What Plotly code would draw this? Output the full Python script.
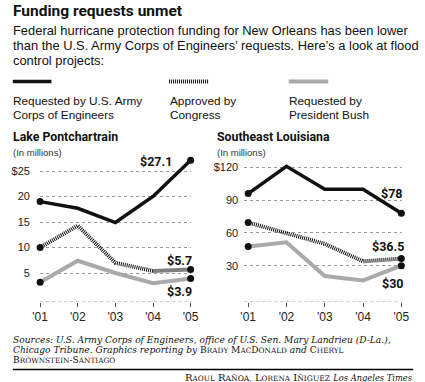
import plotly.graph_objects as go

W, H = 425, 382

years = ["'01", "'02", "'03", "'04", "'05"]
xi = [0, 1, 2, 3, 4]

# Lake Pontchartrain (in millions)
lp_army = [19.0, 17.7, 14.9, 20.0, 27.1]
lp_congress = [10.0, 14.3, 7.0, 5.4, 5.7]
lp_bush = [3.2, 7.4, 5.0, 3.0, 3.9]
lp_ticks = [5, 10, 15, 20, 25]
lp_ticktext = ["5", "10", "15", "20", "$25"]

# Southeast Louisiana (in millions)
se_army = [96, 121, 100, 100, 78]
se_congress = [69.5, 59.5, 50, 34, 36.5]
se_bush = [47.5, 51.5, 20.5, 16.5, 30]
se_ticks = [30, 60, 90, 120]
se_ticktext = ["30", "60", "90", "$120"]

SANS = "Liberation Sans, Arial, sans-serif"
BOLD = "Roboto, Liberation Sans, sans-serif"
SERIF = "DejaVu Serif, Liberation Serif, serif"

BLACK = "#111111"
GRAY = "#aaaaaa"
DARKGRAY = "#808080"


def px(x):
    return x / W


def py(y):
    return 1 - y / H


fig = go.Figure()


def add_panel(xa, ya, army, congress, bush, split_congress):
    fig.add_trace(go.Scatter(x=xi, y=bush, xaxis=xa, yaxis=ya, mode="lines",
                             line=dict(color=GRAY, width=4), cliponaxis=False,
                             hoverinfo="skip"))
    if split_congress:
        fig.add_trace(go.Scatter(x=xi[:4], y=congress[:4], xaxis=xa, yaxis=ya, mode="lines",
                                 line=dict(color=BLACK, width=4, dash="1px,1px"),
                                 cliponaxis=False, hoverinfo="skip"))
        fig.add_trace(go.Scatter(x=xi[3:], y=congress[3:], xaxis=xa, yaxis=ya, mode="lines",
                                 line=dict(color=DARKGRAY, width=4),
                                 cliponaxis=False, hoverinfo="skip"))
    else:
        fig.add_trace(go.Scatter(x=xi, y=congress, xaxis=xa, yaxis=ya, mode="lines",
                                 line=dict(color=BLACK, width=4, dash="1px,1px"),
                                 cliponaxis=False, hoverinfo="skip"))
    fig.add_trace(go.Scatter(x=xi, y=army, xaxis=xa, yaxis=ya, mode="lines",
                             line=dict(color=BLACK, width=3.5), cliponaxis=False,
                             hoverinfo="skip"))
    for s in (army, congress, bush):
        fig.add_trace(go.Scatter(x=[xi[0], xi[-1]], y=[s[0], s[-1]], xaxis=xa, yaxis=ya,
                                 mode="markers", marker=dict(color=BLACK, size=7),
                                 cliponaxis=False, hoverinfo="skip"))


add_panel("x", "y", lp_army, lp_congress, lp_bush, True)
add_panel("x2", "y2", se_army, se_congress, se_bush, False)

ybot, ytop = 301.5, 155.0
lp_range = [-0.588, 28.14]
se_range = [-2.74, 131.3]

xcommon = dict(tickvals=xi, ticktext=years, showgrid=False, zeroline=False, showline=False,
               ticks="outside", ticklen=4, tickcolor="#555", tickwidth=1,
               tickfont=dict(family=SANS, size=12, color="#222"), fixedrange=True)
ycommon = dict(showgrid=True, gridcolor="#999", griddash="dot", gridwidth=1, zeroline=False,
               showline=False, ticks="outside", tickcolor="rgba(0,0,0,0)",
               tickfont=dict(family=SANS, size=11, color="#222"), fixedrange=True)

fig.update_layout(
    width=W, height=H, margin=dict(l=0, r=0, t=0, b=0),
    paper_bgcolor="white", plot_bgcolor="white", showlegend=False,
    xaxis=dict(domain=[px(33.3), px(190.1)], range=[0, 4.02], anchor="y", **xcommon),
    yaxis=dict(domain=[py(ybot), py(ytop)], range=lp_range, anchor="x", ticklen=7,
               tickvals=lp_ticks, ticktext=lp_ticktext, **ycommon),
    xaxis2=dict(domain=[px(245), px(408.9)], range=[-0.1, 4.03], anchor="y2", **xcommon),
    yaxis2=dict(domain=[py(ybot), py(ytop)], range=se_range, anchor="x2", ticklen=3,
                tickvals=se_ticks, ticktext=se_ticktext, **ycommon),
)

shapes = []
shapes.append(dict(type="line", xref="x domain", yref="y", x0=0, x1=1, y0=lp_range[0], y1=lp_range[0],
                   line=dict(color="#999", width=1, dash="dot")))
shapes.append(dict(type="line", xref="x2 domain", yref="y2", x0=0, x1=1, y0=se_range[0], y1=se_range[0],
                   line=dict(color="#999", width=1, dash="dot")))
ly = py(81.5)
shapes.append(dict(type="line", xref="paper", yref="paper", x0=px(5), x1=px(45), y0=ly, y1=ly,
                   line=dict(color=BLACK, width=3.5)))
shapes.append(dict(type="line", xref="paper", yref="paper", x0=px(167), x1=px(208), y0=ly, y1=ly,
                   line=dict(color=BLACK, width=4, dash="1px,1px")))
shapes.append(dict(type="line", xref="paper", yref="paper", x0=px(291), x1=px(332), y0=ly, y1=ly,
                   line=dict(color=GRAY, width=4)))
# footer rule
shapes.append(dict(type="rect", xref="paper", yref="paper", x0=px(5), x1=px(420),
                   y0=py(370.2), y1=py(368.8), fillcolor="#000", line=dict(width=0), layer="above"))
fig.update_layout(shapes=shapes)

ann = []


def text(x, y, s, size, family=SANS, color="#111", xanchor="left", bold=False):
    if bold:
        s = "<b>" + s + "</b>"
    ann.append(dict(x=px(x), y=py(y), xref="paper", yref="paper", text=s, showarrow=False,
                    xanchor=xanchor, yanchor="middle", align=xanchor if xanchor != "center" else "center",
                    borderpad=0, font=dict(family=family, size=size, color=color)))


text(4, 10.5, "Funding requests unmet", 15.5, family=BOLD, bold=True)
text(4, 30.5, "Federal hurricane protection funding for New Orleans has been lower", 12.9)
text(4, 45.5, "than the U.S. Army Corps of Engineers\u2019 requests. Here\u2019s a look at flood", 12.9)
text(4, 60.5, "control projects:", 12.9)

text(4, 100.5, "Requested by U.S. Army", 11.8)
text(4, 114.5, "Corps of Engineers", 11.8)
text(167, 100.5, "Approved by", 11.8)
text(167, 114.5, "Congress", 11.8)
text(290, 100.5, "Requested by", 11.8)
text(290, 114.5, "President Bush", 11.8)

text(4, 137, "Lake Pontchartrain", 12.3, family=BOLD, bold=True)
text(4, 152.5, "(In millions)", 9.5, color="#333")
text(216, 137, "Southeast Louisiana", 12.3, family=BOLD, bold=True)
text(216, 152.5, "(In millions)", 9.5, color="#333")


def vlabel(xa, ya, v, xshift, yshift):
    ann.append(dict(x=xi[-1], y=v, xref=xa, yref=ya, text="<b>$%s</b>" % v, showarrow=False,
                    xanchor="right", yanchor="middle", xshift=xshift, yshift=yshift,
                    font=dict(family=BOLD, size=12.5, color="#111")))


vlabel("x", "y", lp_army[-1], -17, -1)
vlabel("x", "y", lp_congress[-1], 3, 9)
vlabel("x", "y", lp_bush[-1], 3, -13)
vlabel("x2", "y2", se_army[-1], 4, 20)
vlabel("x2", "y2", se_congress[-1], 5, 12)
vlabel("x2", "y2", se_bush[-1], 5, -18)

SM = 7.3


def sc(word):
    return word[0] + '<span style="font-size:%spx">%s</span>' % (SM, word[1:])


FS = 9.1
text(4, 339.5, "<i>Sources: U.S. Army Corps of Engineers, office of U.S. Sen. Mary Landrieu (D-La.),</i>",
     FS, family=SERIF)
text(4, 350, "<i>Chicago Tribune. Graphics reporting by</i> " + sc("BRADY") + " M"
     + '<span style="font-size:%spx">AC</span>D<span style="font-size:%spx">ONALD</span>' % (SM, SM)
     + " <i>and</i> " + sc("CHERYL"), FS, family=SERIF)
text(4, 360.3, sc("BROWNSTEIN") + "-" + sc("SANTIAGO"), FS, family=SERIF)
text(420, 377.5, sc("RAOUL") + " " + "R" + '<span style="font-size:%spx">A\u00d1OA,</span> ' % 7.6
     + sc("LORENA") + " I" + '<span style="font-size:%spx">\u00d1IGUEZ</span> ' % 7.6
     + '<i><span style="font-size:8.3px">Los Angeles Times</span></i>',
     10, family=SERIF, xanchor="right")

fig.update_layout(annotations=ann)

fig.write_html("out.html", config={"displayModeBar": False},
               post_script="document.body.style.margin='0px';")
